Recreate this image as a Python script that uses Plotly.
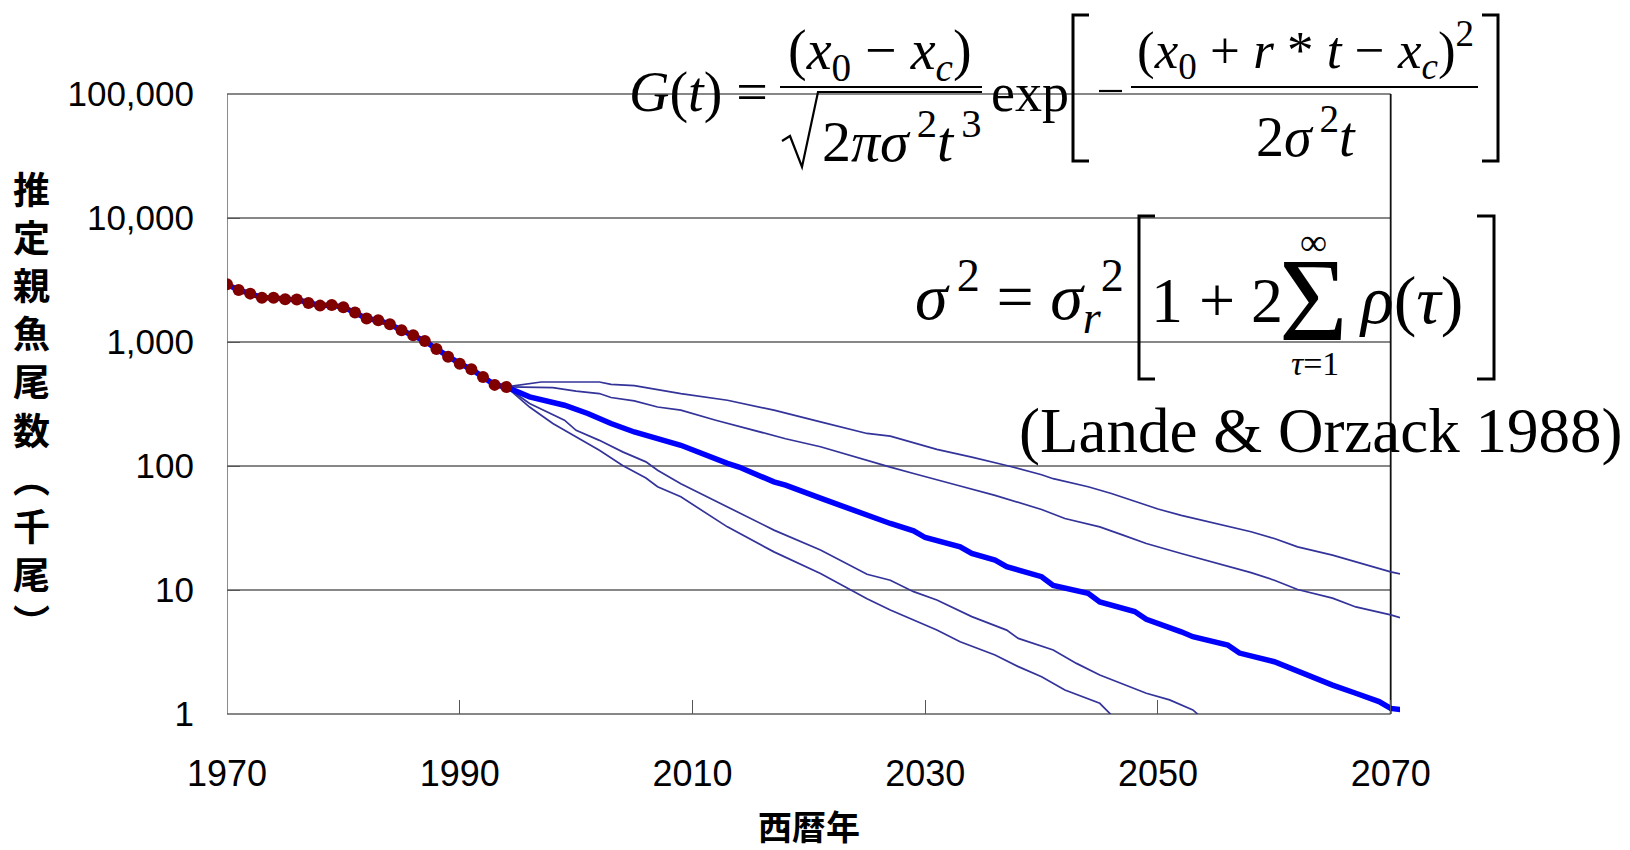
import plotly.graph_objects as go

# ---- observed spawning stock (thousand fish) ----
hist_years = list(range(1970, 1995))
hist_values = [2917, 2624, 2455, 2279, 2279, 2208, 2197, 2063, 1965, 1986,
               1904, 1726, 1544, 1497, 1390, 1243, 1133, 1019, 879, 762,
               669, 603, 522, 451, 434]

# ---- projected trajectories from 1994 ----
median_years = [1996, 1999, 2001, 2003, 2005, 2007, 2009, 2013, 2014, 2017,
                2018, 2021, 2025, 2027, 2029, 2030, 2033, 2034, 2036, 2037,
                2040, 2041, 2044, 2045, 2048, 2049, 2052, 2053, 2056, 2057,
                2060, 2061, 2063, 2065, 2067, 2069, 2070, 2071]
median_values = [361, 309, 265, 220, 188, 166, 147, 105, 98, 74.5,
                 70, 55, 40, 34.4, 30, 26.5, 22.3, 19.7, 17.4, 15.4,
                 12.8, 10.9, 9.4, 8.0, 6.7, 5.8, 4.6, 4.2, 3.6, 3.1,
                 2.64, 2.41, 2.06, 1.71, 1.47, 1.26, 1.11, 1.08]

upper_outer_years = [1994, 1997, 2002, 2003, 2005, 2007, 2009, 2013, 2017, 2021,
                     2025, 2027, 2029, 2031, 2034, 2037, 2040, 2041, 2044, 2046,
                     2048, 2050, 2052, 2055, 2058, 2060, 2062, 2065, 2067, 2070, 2071]
upper_outer_values = [434, 476, 476, 456, 445, 413, 384, 339, 282, 227,
                      183, 174, 153, 136, 118, 101, 85, 79, 68, 60,
                      52, 45, 40, 34.4, 29.5, 26, 22.3, 19.1, 16.9, 14.0, 13.4]

upper_inner_years = [1994, 1998, 2000, 2002, 2003, 2005, 2007, 2009, 2012, 2015,
                     2018, 2021, 2024, 2027, 2029, 2031, 2033, 2036, 2038, 2040,
                     2042, 2045, 2047, 2049, 2052, 2055, 2058, 2060, 2062, 2065,
                     2067, 2070, 2071]
upper_inner_values = [434, 429, 401, 384, 357, 335, 299, 282, 234, 197,
                      166, 143, 118, 98, 87, 77, 69, 58, 51, 44.6,
                      37.7, 32.3, 27.7, 23.7, 19.7, 16.4, 13.8, 12.0, 10.1, 8.6,
                      7.3, 6.3, 5.9]

lower_inner_years = [1994, 1996, 1999, 2000, 2002, 2004, 2006, 2007, 2009, 2013,
                     2017, 2021, 2025, 2027, 2029, 2031, 2033, 2034, 2037, 2038,
                     2041, 2043, 2045, 2047, 2049, 2051, 2053, 2054, 2056]
lower_inner_values = [434, 319, 234, 194, 161, 130, 108, 92.5, 72, 46.9,
                      30.4, 21, 13.4, 12.0, 9.7, 8.3, 6.7, 6.1, 4.75, 4.07,
                      3.28, 2.56, 2.06, 1.74, 1.47, 1.30, 1.08, 0.89, 0.72]

lower_outer_years = [1994, 1996, 1998, 2000, 2002, 2004, 2006, 2007, 2009, 2013,
                     2017, 2021, 2025, 2027, 2029, 2031, 2033, 2036, 2038, 2040,
                     2042, 2045, 2046, 2048]
lower_outer_values = [434, 299, 220, 172, 134, 101, 80, 68, 56.4, 32.3,
                      20.3, 13.6, 8.5, 6.9, 5.7, 4.75, 3.83, 2.99, 2.41, 2.0,
                      1.56, 1.22, 0.98, 0.80]

x_ticks = [1970, 1990, 2010, 2030, 2050, 2070]
y_ticks = [1, 10, 100, 1000, 10000, 100000]
y_tick_text = ["1", "10", "100", "1,000", "10,000", "100,000"]

SERIF = "Liberation Serif, Times New Roman, serif"
SANS = "Liberation Sans, Arial, sans-serif"
CJK = "Noto Sans CJK JP, sans-serif"

THIN = "#33339a"
TS = "\u2009"  # thin space between an italic letter and its superscript

fig = go.Figure()

for xs, ys in [(upper_outer_years, upper_outer_values),
               (upper_inner_years, upper_inner_values),
               (lower_inner_years, lower_inner_values),
               (lower_outer_years, lower_outer_values)]:
    fig.add_trace(go.Scatter(x=xs, y=ys, mode="lines",
                             line=dict(color=THIN, width=1.7),
                             showlegend=False, hoverinfo="skip"))

fig.add_trace(go.Scatter(x=hist_years + median_years,
                         y=hist_values + median_values, mode="lines",
                         line=dict(color="#0000ff", width=5.5),
                         showlegend=False))
fig.add_trace(go.Scatter(x=hist_years, y=hist_values, mode="markers",
                         marker=dict(color="#800000", size=12),
                         showlegend=False))

# ---- page geometry (pixels) for the plot frame and the formula block ----
L, R, T, B = 227, 1400, 94, 714


def px(x):
    return (x - L) / (R - L)


def py(y):
    return (B - y) / (B - T)


shapes = []
# horizontal grid and frame, stopping at 2070
for k in range(6):
    shapes.append(dict(type="line", xref="x", yref="paper", x0=1970, x1=2070,
                       y0=k / 5, y1=k / 5, layer="below",
                       line=dict(color="#111111", width=1.2)))
shapes.append(dict(type="line", xref="x", yref="paper", x0=1970, x1=1970,
                   y0=0, y1=1, layer="below", line=dict(color="#666666", width=1.5)))
shapes.append(dict(type="line", xref="x", yref="paper", x0=2070, x1=2070,
                   y0=0, y1=1, layer="below", line=dict(color="#111111", width=1.8)))


def seg(points, width=2.5):
    d = "M" + " L".join(f"{px(a):.5f},{py(b):.5f}" for a, b in points)
    return dict(type="path", xref="paper", yref="paper", path=d,
                line=dict(color="black", width=width))


# G(t) formula strokes
shapes.append(seg([(780, 87), (982, 87)], 2.2))                     # fraction bar
shapes.append(seg([(782, 141), (790, 136), (802, 167), (818, 92), (982, 92)], 2.2))  # root
shapes.append(seg([(1089, 15), (1073, 15), (1073, 161), (1089, 161)], 3))
shapes.append(seg([(1099, 91), (1122, 91)], 2.2))                   # minus
shapes.append(seg([(1131, 87), (1478, 87)], 2.2))
shapes.append(seg([(1482, 15), (1498, 15), (1498, 161), (1482, 161)], 3))
# sigma^2 formula brackets
shapes.append(seg([(1155, 216), (1139, 216), (1139, 379), (1155, 379)], 3))
shapes.append(seg([(1477, 216), (1494, 216), (1494, 379), (1477, 379)], 3))


def label(text, x, y, size, family=SERIF, xanchor="center", weight="normal"):
    return dict(text=text, x=px(x), y=py(y), xref="paper", yref="paper",
                showarrow=False, xanchor=xanchor, yanchor="middle",
                font=dict(family=family, size=size, color="black", weight=weight))


ann = [
    label("<i>G</i>(<i>t</i>) =", 698, 92, 56),
    label("(<i>x</i><sub>0</sub> − <i>x<sub>c</sub></i>)", 880, 54, 56),
    label(f"2<i>πσ</i><sup>{TS}2</sup><i>t</i><sup>{TS}3</sup>", 902, 137, 58),
    label("exp", 1030, 93, 54),
    label("(<i>x</i><sub>0</sub> + <i>r</i> * <i>t</i> − <i>x<sub>c</sub></i>)<sup>2</sup>",
          1305, 50, 53),
    label(f"2<i>σ</i><sup>{TS}2</sup><i>t</i>", 1306, 133, 56),
    label(f"<i>σ</i><sup>{TS}2</sup> = <i>σ<sub>r</sub></i><sup>2</sup>", 913, 296, 66,
          xanchor="left"),
    label("1 + 2", 1217, 300, 64),
    label("Σ", 1313, 300, 118),
    label("∞", 1313, 242, 38),
    label("<i>τ</i>=1", 1315, 364, 34),
    label("<i>ρ</i>(<i>τ</i>)", 1411, 300, 68),
    label("(Lande &amp; Orzack 1988)", 1320, 431, 63),
    # axis titles
    label("推<br>定<br>親<br>魚<br>尾<br>数<br>︵<br>千<br>尾<br>︶", 31, 404, 37,
          family=CJK, weight="bold"),
    label("西暦年", 809, 825, 34, family=CJK, weight="bold"),
]

fig.update_layout(
    width=1630, height=850,
    margin=dict(l=L, r=1630 - R, t=T, b=850 - B, pad=0),
    paper_bgcolor="white", plot_bgcolor="white",
    shapes=shapes, annotations=ann,
    xaxis=dict(range=[1970, 2070.8], tickvals=x_ticks, showgrid=False,
               zeroline=False, showline=False, ticks="inside", ticklen=14,
               tickcolor="#555555", tickwidth=1,
               tickfont=dict(family=SANS, size=36, color="black"),
               ticklabelstandoff=35),
    yaxis=dict(type="log", range=[0, 5], tickvals=y_ticks, ticktext=y_tick_text,
               showgrid=False, zeroline=False, showline=False, ticks="inside",
               ticklen=13, tickcolor="#555555", tickwidth=1,
               tickfont=dict(family=SANS, size=35, color="black"),
               ticklabelstandoff=32),
)

fig.write_html("out.html")
